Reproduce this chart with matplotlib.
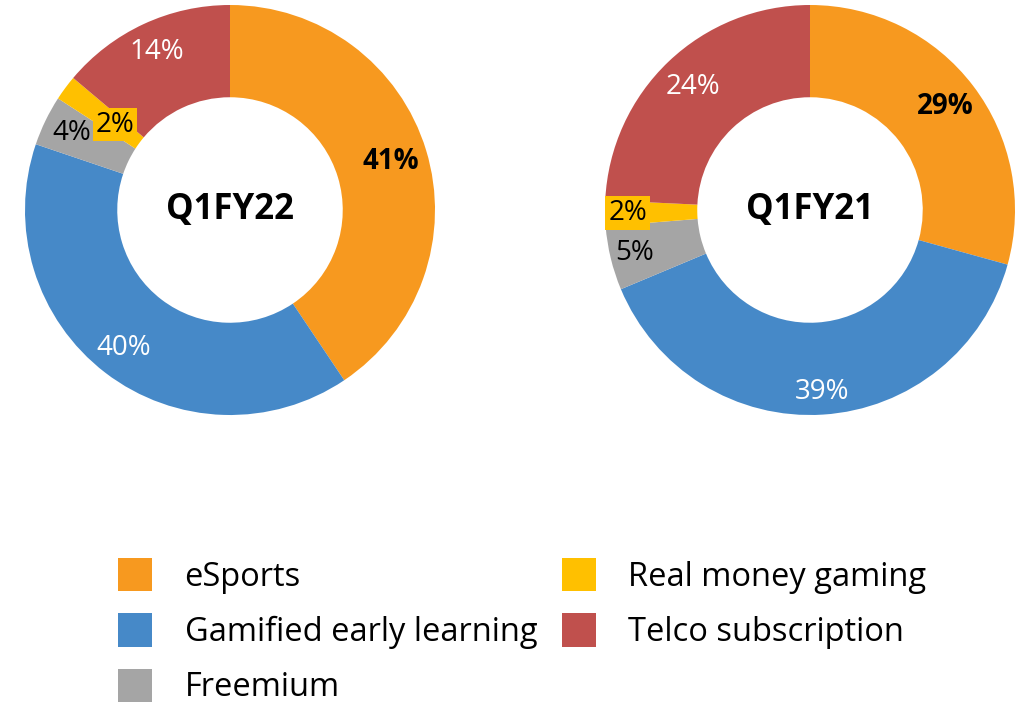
import numpy as np
import matplotlib
matplotlib.use("Agg")
import matplotlib.pyplot as plt
from matplotlib.patches import Patch

plt.rcParams['font.family'] = ['Open Sans', 'DejaVu Sans']

# data
categories = ['eSports', 'Gamified early learning', 'Freemium', 'Real money gaming', 'Telco subscription']
colors = ['#F7991F', '#4689C8', '#A5A5A5', '#FFC000', '#C0504D']
q1fy22 = [41, 40, 4, 2, 14]
q1fy21 = [29, 39, 5, 2, 24]
titles = ['Q1FY22', 'Q1FY21']

# label styling per slice: (text colour, bold, radius factor, boxed)
styles22 = [('black', True, 0.82, False), ('white', False, 0.85, False),
            ('black', False, 0.86, False), ('black', False, 0.70, True),
            ('white', False, 0.85, False)]
styles21 = [('black', True, 0.83, False), ('white', False, 0.89, False),
            ('black', False, 0.88, False), ('black', False, 0.89, True),
            ('white', False, 0.83, False)]

W, H = 1026, 704
fig = plt.figure(figsize=(W / 100, H / 100), dpi=100)

def donut(cx, cy, R, vals, title, styles):
    ax = fig.add_axes([(cx - R) / W, (H - cy - R) / H, 2 * R / W, 2 * R / H])
    wedges, _ = ax.pie(vals, colors=colors, startangle=90, counterclock=False,
                       radius=1.0, wedgeprops=dict(width=0.45, linewidth=0))
    for w, v, (c, b, r, box) in zip(wedges, vals, styles):
        ang = np.deg2rad((w.theta1 + w.theta2) / 2)
        kw = {}
        if box:
            kw['bbox'] = dict(boxstyle='square,pad=0.1', fc='#FFC000', ec='none')
        ax.text(r * np.cos(ang), r * np.sin(ang), f'{v}%', ha='center', va='center',
                fontsize=20, color=c, fontweight='bold' if b else 'normal', **kw)
    ax.text(0, 0, title, ha='center', va='center', fontsize=25, fontweight='bold')
    ax.set_xlim(-1, 1)
    ax.set_ylim(-1, 1)
    ax.set_aspect('equal')
    ax.axis('off')

donut(230, 210, 205, q1fy22, titles[0], styles22)
donut(810, 210, 205, q1fy21, titles[1], styles21)

handles = [Patch(facecolor=c, edgecolor='none') for c in colors]
fig.legend(handles, categories, loc='upper left', bbox_to_anchor=(118 / W, 1 - 558 / H),
           ncol=2, frameon=False, fontsize=23.5, handlelength=1.04, handleheight=1.2,
           handletextpad=1.0, labelspacing=0.6, columnspacing=0.75, borderpad=0,
           borderaxespad=0)

fig.savefig('out.png', dpi=100)
